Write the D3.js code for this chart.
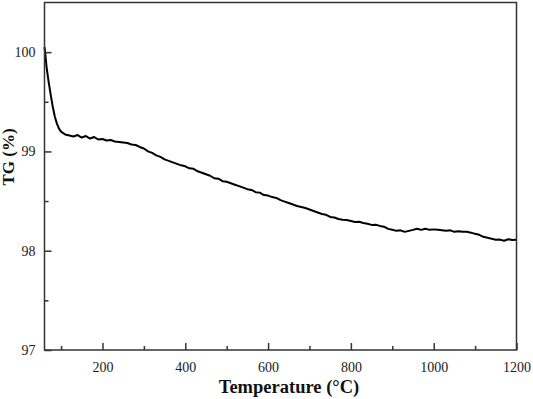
<!DOCTYPE html>
<html>
<head>
<meta charset="utf-8">
<script src="https://cdn.jsdelivr.net/npm/d3@7"></script>
<style>
html,body{margin:0;padding:0;background:#fff;}
svg{display:block;}
</style>
</head>
<body>
<svg id="chart" width="533" height="399"></svg>
<script>
const temperature = [60,62,65,70,75,80,85,90,95,100,110,120,130,140,150,160,170,180,190,200,210,220,230,240,250,260,270,280,290,300,310,320,330,340,350,360,370,380,390,400,410,420,430,440,450,460,470,480,490,500,510,520,530,540,550,560,570,580,590,600,610,620,630,640,650,660,670,680,690,700,710,720,730,740,750,760,770,780,790,800,810,820,830,840,850,860,870,880,890,900,910,920,930,940,950,960,970,980,990,1000,1010,1020,1030,1040,1050,1060,1070,1080,1090,1100,1110,1120,1130,1140,1150,1160,1170,1180,1190,1200];
const tg = [100.05,99.98,99.85,99.70,99.57,99.45,99.35,99.28,99.23,99.20,99.17,99.16,99.15,99.165,99.14,99.155,99.13,99.145,99.12,99.125,99.11,99.115,99.10,99.095,99.09,99.085,99.07,99.065,99.045,99.03,99.00,98.985,98.96,98.945,98.92,98.905,98.89,98.875,98.86,98.85,98.83,98.825,98.80,98.785,98.77,98.755,98.73,98.725,98.70,98.695,98.68,98.665,98.65,98.635,98.62,98.612,98.59,98.585,98.56,98.555,98.54,98.532,98.51,98.495,98.48,98.465,98.45,98.44,98.43,98.415,98.40,98.385,98.37,98.362,98.34,98.335,98.32,98.312,98.31,98.30,98.29,98.292,98.28,98.272,98.26,98.262,98.25,98.242,98.22,98.212,98.20,98.205,98.19,98.20,98.21,98.222,98.21,98.222,98.21,98.215,98.21,98.205,98.20,98.205,98.19,98.195,98.19,98.19,98.182,98.17,98.16,98.14,98.13,98.12,98.11,98.112,98.10,98.115,98.108,98.11];
const xMajorTicks = [200,400,600,800,1000,1200];
const xMinorTicks = [100,300,500,700,900,1100];
const yMajorTicks = [97,98,99,100];
const yMinorTicks = [97.5,98.5,99.5];
const xTitle = "Temperature (\u00B0C)";
const yTitle = "TG (%)";

const svg = d3.select("#chart");
const L = 44.5, R = 516.5, T = 2.5, B = 350;
const x = d3.scaleLinear().domain([60,1200]).range([L,R]);
const y = d3.scaleLinear().domain([97,100.5]).range([B,T]);
const axisColor = "#333";
const font = "'Liberation Serif','Times New Roman',serif";

// curve
const line = d3.line().x((d,i)=>x(temperature[i])).y(d=>y(d));
svg.append("path").datum(tg).attr("d",line).attr("fill","none")
  .attr("stroke","#000").attr("stroke-width",2).attr("stroke-linejoin","round");

// frame
svg.append("rect").attr("x",L).attr("y",T).attr("width",R-L).attr("height",B-T)
  .attr("fill","none").attr("stroke",axisColor).attr("stroke-width",1.5);

// x axis
const xAxis = d3.axisBottom(x).tickValues(xMajorTicks).tickSizeInner(-7).tickSizeOuter(0).tickPadding(12).tickFormat(d3.format("d"));
const gx = svg.append("g").attr("transform",`translate(0,${B})`).call(xAxis);
gx.select(".domain").remove();
gx.selectAll(".tick line").attr("stroke",axisColor).attr("stroke-width",1.5);
gx.selectAll(".tick text").attr("font-family",font).attr("font-size",14).attr("fill","#222");
const xMinor = d3.axisBottom(x).tickValues(xMinorTicks).tickSizeInner(-4).tickSizeOuter(0).tickFormat("");
const gxm = svg.append("g").attr("transform",`translate(0,${B})`).call(xMinor);
gxm.select(".domain").remove();
gxm.selectAll(".tick line").attr("stroke",axisColor).attr("stroke-width",1.5);

// y axis
const yAxis = d3.axisLeft(y).tickValues(yMajorTicks).tickSizeInner(-7).tickSizeOuter(0).tickPadding(9).tickFormat(d3.format("d"));
const gy = svg.append("g").attr("transform",`translate(${L},0)`).call(yAxis);
gy.select(".domain").remove();
gy.selectAll(".tick line").attr("stroke",axisColor).attr("stroke-width",1.5);
gy.selectAll(".tick text").attr("font-family",font).attr("font-size",14).attr("fill","#222");
const yMinor = d3.axisLeft(y).tickValues(yMinorTicks).tickSizeInner(-4).tickSizeOuter(0).tickFormat("");
const gym = svg.append("g").attr("transform",`translate(${L},0)`).call(yMinor);
gym.select(".domain").remove();
gym.selectAll(".tick line").attr("stroke",axisColor).attr("stroke-width",1.5);

// titles
svg.append("text").attr("x",289).attr("y",393).attr("text-anchor","middle")
  .attr("font-family",font).attr("font-weight","bold").attr("font-size",18.5).attr("fill","#111")
  .text(xTitle);
svg.append("text").attr("transform","translate(14,157) rotate(-90)").attr("text-anchor","middle")
  .attr("font-family",font).attr("font-weight","bold").attr("font-size",17).attr("fill","#111")
  .text(yTitle);
</script>
</body>
</html>
